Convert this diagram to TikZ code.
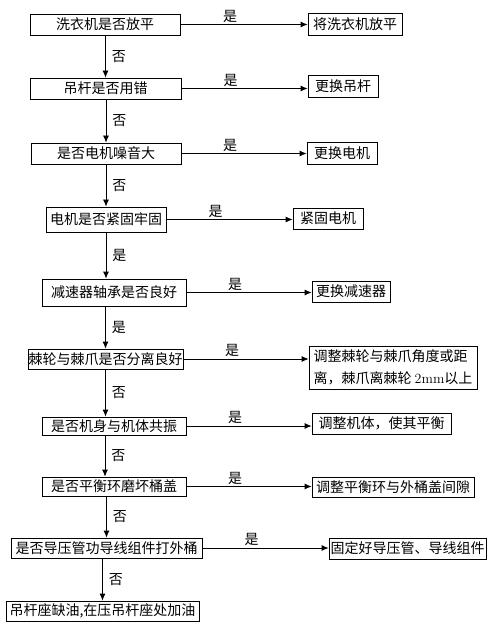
\documentclass[tikz,border=0pt]{standalone}
\usepackage{fontspec}
\newfontfamily\cjk{Noto Sans CJK SC}
\usetikzlibrary{arrows.meta}

\begin{document}
\begin{tikzpicture}[x=1pt, y=-1pt, >={Latex[length=7pt,width=6pt]}, line width=0.8pt]
\tikzstyle{every node}=[font=\cjk\fontsize{14}{22}\selectfont]
\tikzstyle{ask}=[draw, inner sep=0pt, minimum height=21pt]
\tikzstyle{fix}=[draw, inner sep=0pt, minimum height=21pt]
\tikzstyle{yes}=[above, pos=0.39, inner sep=1.5pt]
\tikzstyle{no}=[right, midway, inner sep=6pt]
\useasboundingbox (0,0) rectangle (501,636);
% questions down the left
\node[ask, minimum width=150pt] (level)   at (105,24.5)  {洗衣机是否放平};
\node[ask, minimum width=151pt] (rod)     at (105.5,88.5) {吊杆是否用错};
\node[ask, minimum width=150pt] (noise)   at (106,153.5) {是否电机噪音大};
\node[ask, minimum width=120pt, minimum height=25pt] (motor) at (106,219.5) {电机是否紧固牢固};
\node[ask, minimum width=144pt, minimum height=27pt] (reducer) at (114,292.5) {减速器轴承是否良好};
\node[ask, minimum width=155pt, minimum height=20pt] (ratchet) at (105.5,359) {棘轮与棘爪是否分离良好};
\node[ask, minimum width=144pt, minimum height=18pt] (shake)   at (114,426) {是否机身与机体共振};
\node[ask, minimum width=144pt, minimum height=19pt] (ring)    at (114,486.5) {是否平衡环磨坏桶盖};
\node[ask, minimum width=191pt, minimum height=20pt] (wire)    at (106.5,548) {是否导压管功导线组件打外桶};
\node[ask, minimum width=193pt, minimum height=20pt] (oil)     at (102.5,611) {吊杆座缺油,在压吊杆座处加油};
% fixes on the right
\node[fix, minimum width=94pt, minimum height=22pt] (flat)  at (355,24) {将洗衣机放平};
\node[fix, minimum width=70pt, minimum height=22pt] (newrod) at (343,86) {更换吊杆};
\node[fix, minimum width=70pt, minimum height=22pt] (newmotor) at (342,153) {更换电机};
\node[fix, minimum width=70pt] (tight) at (328,218.5) {紧固电机};
\node[fix, minimum width=78pt] (newreducer) at (351,291.5) {更换减速器};
\node[fix, minimum width=168pt, minimum height=43pt, align=left] (adjust) at (393,367.5)
  {调整棘轮与棘爪角度或距\\离，棘爪离棘轮 {\rmfamily 2mm}以上};
\node[fix, minimum width=139pt] (balance) at (381.5,423.5) {调整机体，使其平衡};
\node[fix, minimum width=162pt, minimum height=20pt] (gap) at (393,487) {调整平衡环与外桶盖间隙};
\node[fix, minimum width=157pt] (fasten) at (407.5,548.5) {固定好导压管、导线组件};

% no / yes going down
\draw[->] (level.south -| rod.north) -- (rod.north) node[no] {否};
\draw[->] (rod.south -| noise.north) -- (noise.north) node[no] {否};
\draw[->] (noise.south -| motor.north) -- (motor.north) node[no] {否};
\draw[->] (motor.south) -- (motor.south |- reducer.north) node[no] {是};
\draw[->] (reducer.south -| ratchet.north) -- (ratchet.north) node[no] {是};
\draw[->] (ratchet.south) -- (ratchet.south |- shake.north) node[no] {否};
\draw[->] ([xshift=-9pt]shake.south) -- ([xshift=-9pt]ring.north) node[no] {否};
\draw[->] (ring.south -| wire.north) -- (wire.north) node[no] {否};
\draw[->] (wire.south -| oil.north) -- (oil.north) node[no] {否};

% yes going right
\draw[->] (level.east) -- (level.east -| flat.west) node[yes] {是};
\draw[->] (rod.east) -- (rod.east -| newrod.west) node[yes] {是};
\draw[->] (noise.east) -- (noise.east -| newmotor.west) node[yes] {是};
\draw[->] (motor.east) -- (motor.east -| tight.west) node[yes] {是};
\draw[->] (reducer.east) -- (reducer.east -| newreducer.west) node[yes] {是};
\draw[->] (ratchet.east) -- (ratchet.east -| adjust.west) node[yes] {是};
\draw[->] (shake.east) -- (shake.east -| balance.west) node[yes] {是};
\draw[->] (ring.east) -- (ring.east -| gap.west) node[yes] {是};
\draw[->] (wire.east) -- (wire.east -| fasten.west) node[yes] {是};
\end{tikzpicture}
\end{document}
